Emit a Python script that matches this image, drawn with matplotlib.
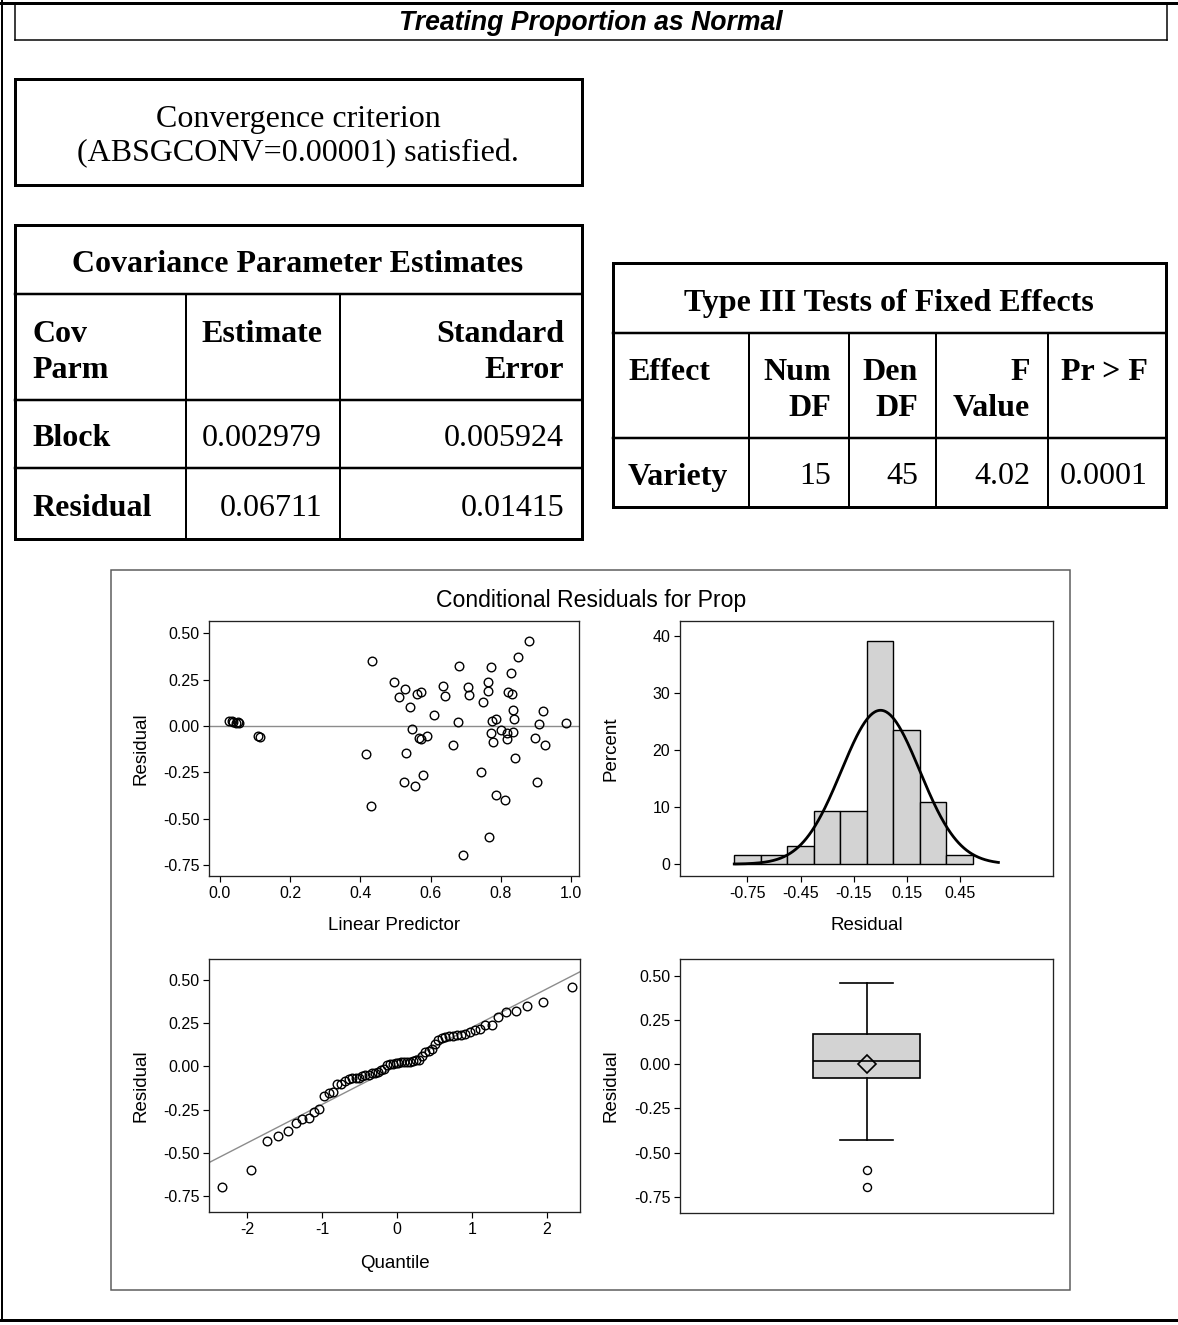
import numpy as np
import matplotlib
matplotlib.use("Agg")
import matplotlib.pyplot as plt
from matplotlib.patches import Rectangle
from statistics import NormalDist

plt.rcParams['axes.unicode_minus'] = False

# ---------------- data ----------------
page_title = "Treating Proportion as Normal"
convergence_lines = ["Convergence criterion", "(ABSGCONV=0.00001) satisfied."]

cov_title = "Covariance Parameter Estimates"
cov_headers = [["Cov", "Parm"], ["Estimate"], ["Standard", "Error"]]
cov_parms = ["Block", "Residual"]
cov_estimates = ["0.002979", "0.06711"]
cov_stderr = ["0.005924", "0.01415"]

t3_title = "Type III Tests of Fixed Effects"
t3_headers = [["Effect"], ["Num", "DF"], ["Den", "DF"], ["F", "Value"], ["Pr > F"]]
t3_row = ["Variety", "15", "45", "4.02", "0.0001"]

graph_title = "Conditional Residuals for Prop"

linear_predictor = [
    0.027, 0.033, 0.038, 0.046, 0.050, 0.055, 0.109, 0.114,
    0.433, 0.417, 0.431, 0.497, 0.511, 0.528, 0.542, 0.560, 0.573, 0.547,
    0.568, 0.574, 0.591, 0.531, 0.525, 0.555, 0.577, 0.609, 0.635, 0.640,
    0.665, 0.677, 0.681, 0.692, 0.706, 0.708, 0.743, 0.749, 0.763, 0.763,
    0.772, 0.766, 0.771, 0.778, 0.776, 0.785, 0.787, 0.800, 0.813, 0.817,
    0.818, 0.821, 0.832, 0.829, 0.835, 0.836, 0.839, 0.841, 0.850, 0.879,
    0.898, 0.908, 0.903, 0.920, 0.925, 0.987]
residual = [
    0.029, 0.027, 0.023, 0.015, 0.022, 0.018, -0.052, -0.058,
    0.349, -0.151, -0.430, 0.237, 0.155, 0.201, 0.101, 0.173, 0.183, -0.014,
    -0.067, -0.072, -0.052, -0.146, -0.304, -0.324, -0.263, 0.059, 0.216, 0.162,
    -0.103, 0.023, 0.322, -0.693, 0.212, 0.169, -0.245, 0.128, 0.239, 0.189,
    0.317, -0.599, -0.038, -0.086, 0.025, 0.038, -0.372, -0.022, -0.399, -0.036,
    -0.068, 0.182, 0.173, 0.286, 0.088, -0.034, 0.036, -0.173, 0.372, 0.460,
    -0.067, 0.009, -0.300, 0.081, -0.104, 0.014]

hist_edges = [-0.825, -0.675, -0.525, -0.375, -0.225, -0.075, 0.075, 0.225, 0.375, 0.525]
normal_mu = 0.003
normal_sigma = 0.222
curve_range = (-0.825, 0.67)

lp_ticks = [0.0, 0.2, 0.4, 0.6, 0.8, 1.0]
res_ticks = [-0.75, -0.50, -0.25, 0.0, 0.25, 0.50]
pct_ticks = [0, 10, 20, 30, 40]
hist_xticks = [-0.75, -0.45, -0.15, 0.15, 0.45]
q_ticks = [-2, -1, 0, 1, 2]

# ---------------- figure ----------------
W, H = 1178, 1325
fig = plt.figure(figsize=(W / 100, H / 100), dpi=100)
bg = fig.add_axes([0, 0, 1, 1])
bg.set_xlim(0, W)
bg.set_ylim(H, 0)
bg.axis('off')

PT = 0.72  # px -> pt


def hline(x0, x1, y, lw, color='black'):
    bg.plot([x0, x1], [y, y], color=color, lw=lw * PT, solid_capstyle='projecting')


def vline(x, y0, y1, lw, color='black'):
    bg.plot([x, x], [y0, y1], color=color, lw=lw * PT, solid_capstyle='projecting')


def rect(x0, y0, x1, y1, lw, color='black', fc='none'):
    bg.add_patch(Rectangle((x0, y0), x1 - x0, y1 - y0, fill=(fc != 'none'),
                           facecolor=fc, edgecolor=color, lw=lw * PT, joinstyle='miter'))


SERIF = 'Liberation Serif'
SANS = 'Liberation Sans'
TFS = 23
DY = 4  # vertical nudge for serif text


def stext(x, y, s, ha='left', bold=False):
    bg.text(x, y + DY, s, family=SERIF, weight='bold' if bold else 'normal',
            fontsize=TFS, ha=ha, va='center')


# outer page lines
hline(0, W, 3, 3)
vline(1.5, 0, 1320, 2)
hline(0, 1177, 1320, 3)

# title box
vline(15, 3, 40, 1.5)
vline(1167, 3, 40, 1.5)
hline(15, 1167, 40, 1.5)
bg.text(591, 23, page_title, family=SANS, weight='bold', style='italic',
        fontsize=19.2, ha='center', va='center')

# convergence box
rect(15, 79, 582, 185, 3)
stext(298, 116, convergence_lines[0], ha='center')
stext(298, 150, convergence_lines[1], ha='center')

# covariance table
rect(15, 225, 582, 539, 3)
for y in (294, 400, 468):
    hline(15, 582, y, 2.5)
for x in (186, 340):
    vline(x, 294, 539, 2)
stext(298, 261, cov_title, ha='center', bold=True)
hdr_y = [331, 367]
for i, ln in enumerate(cov_headers[0]):
    stext(32, hdr_y[i], ln, bold=True)
for i, ln in enumerate(cov_headers[1]):
    stext(322, hdr_y[i], ln, ha='right', bold=True)
for i, ln in enumerate(cov_headers[2]):
    stext(564, hdr_y[i], ln, ha='right', bold=True)
row_y = [435, 504]
for i in range(len(cov_parms)):
    stext(32, row_y[i], cov_parms[i], bold=True)
    stext(322, row_y[i], cov_estimates[i], ha='right')
    stext(564, row_y[i], cov_stderr[i], ha='right')

# type III table
rect(613, 263, 1166, 507, 3)
for y in (333, 438):
    hline(613, 1166, y, 2.5)
t3_cols = [613, 749, 849, 936, 1048, 1166]
for x in t3_cols[1:-1]:
    vline(x, 333, 507, 2)
stext(889, 299, t3_title, ha='center', bold=True)
h3_y = [368, 405]
for j, hdr in enumerate(t3_headers):
    for i, ln in enumerate(hdr):
        if j == 0:
            stext(628, h3_y[i], ln, bold=True)
        else:
            stext(t3_cols[j + 1] - 18, h3_y[i], ln, ha='right', bold=True)
for j, val in enumerate(t3_row):
    if j == 0:
        stext(628, 473, val, bold=True)
    else:
        stext(t3_cols[j + 1] - 18, 473, val, ha='right')

# graph frame
rect(111, 570, 1070, 1290, 1.5, color='#5a5a5a')
bg.text(591, 600, graph_title, family=SANS, fontsize=16.6, ha='center', va='center')


# ---------------- plots ----------------
def px_axes(l, t, r, b):
    ax = fig.add_axes([l / W, 1 - b / H, (r - l) / W, (b - t) / H])
    for s in ax.spines.values():
        s.set_color('#222222')
        s.set_linewidth(0.95)
    ax.tick_params(direction='out', length=4.0, width=0.85,
                   labelsize=11.5, pad=3, colors='black')
    return ax


def style_labels(ax):
    for lab in ax.get_xticklabels() + ax.get_yticklabels():
        lab.set_fontfamily(SANS)


n = len(residual)
LABFS = 13.5
MS = 6.2

# scatter: residual vs linear predictor
ax1 = px_axes(209, 621, 579, 876)
ax1.axhline(0, color='#8c8c8c', lw=1.0, zorder=1)
ax1.plot(linear_predictor, residual, 'o', mfc='none', mec='black', ms=MS, mew=1.0, zorder=3)
ax1.set_xlim(-0.0313, 1.0228)
ax1.set_ylim(-0.808, 0.566)
ax1.set_xticks(lp_ticks)
ax1.set_xticklabels([f"{v:.1f}" for v in lp_ticks])
ax1.set_yticks(res_ticks)
ax1.set_yticklabels([f"{v:.2f}" for v in res_ticks])
ax1.set_xlabel("Linear Predictor", family=SANS, fontsize=LABFS, va='center')
ax1.set_ylabel("Residual", family=SANS, fontsize=LABFS, va='center')
ax1.xaxis.set_label_coords(0.5, -(926 - 876) / 255)
ax1.yaxis.set_label_coords((141 - 209) / 370, 0.5)
style_labels(ax1)

# histogram
ax2 = px_axes(680, 621, 1053, 876)
ax2.hist(residual, bins=hist_edges, weights=np.full(n, 100.0 / n),
         color='#d3d3d3', edgecolor='black', lw=1.0, zorder=2)
bw = hist_edges[1] - hist_edges[0]
xs = np.linspace(curve_range[0], curve_range[1], 400)
nd = NormalDist(normal_mu, normal_sigma)
ax2.plot(xs, [100 * bw * nd.pdf(v) for v in xs], color='black', lw=2.0, zorder=3)
ax2.set_xlim(-1.132, 0.979)
ax2.set_ylim(-2.08, 42.6)
ax2.set_xticks(hist_xticks)
ax2.set_xticklabels([f"{v:.2f}" for v in hist_xticks])
ax2.set_yticks(pct_ticks)
ax2.set_yticklabels([str(v) for v in pct_ticks])
ax2.set_xlabel("Residual", family=SANS, fontsize=LABFS, va='center')
ax2.set_ylabel("Percent", family=SANS, fontsize=LABFS, va='center')
ax2.xaxis.set_label_coords(0.5, -(926 - 876) / 255)
ax2.yaxis.set_label_coords((611 - 680) / 373, 0.5)
style_labels(ax2)

# Q-Q plot
ax3 = px_axes(209, 959, 580, 1212)
srt = sorted(residual)
quant = [NormalDist().inv_cdf((i + 1 - 0.375) / (n + 0.25)) for i in range(n)]
qx = np.array([-2.513, 2.447])
ax3.plot(qx, normal_mu + normal_sigma * qx, color='#8c8c8c', lw=1.0, zorder=1)
ax3.plot(quant, srt, 'o', mfc='none', mec='black', ms=MS, mew=1.0, zorder=3)
ax3.set_xlim(-2.513, 2.447)
ax3.set_ylim(-0.840, 0.620)
ax3.set_xticks(q_ticks)
ax3.set_xticklabels([str(v) for v in q_ticks])
ax3.set_yticks(res_ticks)
ax3.set_yticklabels([f"{v:.2f}" for v in res_ticks])
ax3.set_xlabel("Quantile", family=SANS, fontsize=LABFS, va='center')
ax3.set_ylabel("Residual", family=SANS, fontsize=LABFS, va='center')
ax3.xaxis.set_label_coords(0.5, -(1264 - 1212) / 253)
ax3.yaxis.set_label_coords((141 - 209) / 371, 0.5)
style_labels(ax3)

# box plot
ax4 = px_axes(680, 959, 1053, 1213)
arr = np.array(residual)
q1, med, q3 = np.percentile(arr, [25, 50, 75], method='averaged_inverted_cdf')
iqr = q3 - q1
inside = arr[(arr >= q1 - 1.5 * iqr) & (arr <= q3 + 1.5 * iqr)]
stats = [dict(med=med, q1=q1, q3=q3, whislo=inside.min(), whishi=inside.max(),
              fliers=arr[(arr < inside.min()) | (arr > inside.max())], mean=arr.mean())]
ax4.bxp(stats, positions=[0.5], widths=0.285, capwidths=0.14, patch_artist=True,
        showmeans=True,
        boxprops=dict(facecolor='#d3d3d3', edgecolor='black', lw=1.2),
        medianprops=dict(color='black', lw=1.2),
        whiskerprops=dict(color='black', lw=1.2),
        capprops=dict(color='black', lw=1.2),
        meanprops=dict(marker='D', mfc='none', mec='black', ms=9, mew=1.2),
        flierprops=dict(marker='o', mfc='none', mec='black', ms=5.8, mew=1.0))
ax4.set_xlim(0, 1)
ax4.set_ylim(-0.842, 0.594)
ax4.set_xticks([])
ax4.set_yticks(res_ticks)
ax4.set_yticklabels([f"{v:.2f}" for v in res_ticks])
ax4.set_ylabel("Residual", family=SANS, fontsize=LABFS, va='center')
ax4.yaxis.set_label_coords((611 - 680) / 373, 0.5)
style_labels(ax4)

fig.savefig("out.png", dpi=100)
